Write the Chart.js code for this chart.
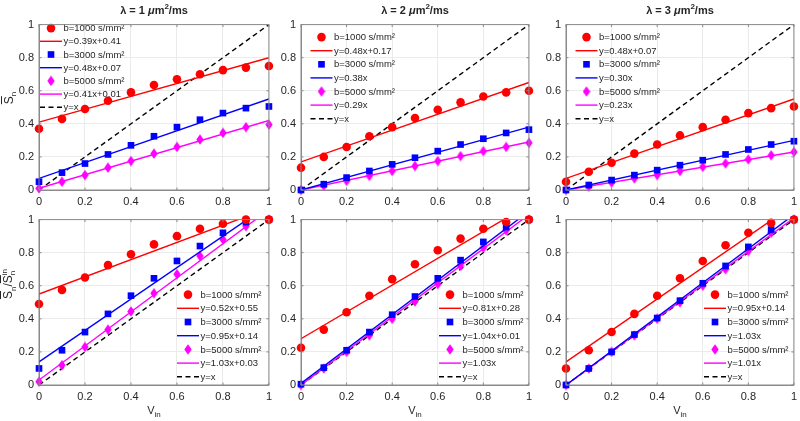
<!DOCTYPE html>
<html>
<head>
<meta charset="utf-8">
<script src="https://cdn.jsdelivr.net/npm/chart.js@4.4.1/dist/chart.umd.min.js"></script>
<style>
  body { margin: 0; background: #fff; width: 800px; height: 421px; position: relative; overflow: hidden;
         font-family: "Liberation Sans", Arial, sans-serif; color: #262626; }
  canvas { position: absolute; }
  .lbl { position: absolute; transform: translate(-50%, -50%); white-space: nowrap; font-size: 11px; }
  .title { font-weight: bold; }
  .ylab { transform: translate(-50%, -50%) rotate(-90deg); font-size: 12px; }
  .ov { text-decoration: overline; }
  sub, sup { font-size: 8px; line-height: 0; }
  .stack { display: inline-block; vertical-align: middle; line-height: 8px; font-size: 8px; text-align: left; }
</style>
</head>
<body>
<script>
// x values (V_in) shared by every panel
const vIn = [0, 0.1, 0.2, 0.3, 0.4, 0.5, 0.6, 0.7, 0.8, 0.9, 1];
const lambdas = [1, 2, 3];
const bLabels = ['b=1000 s/mm²', 'b=3000 s/mm²', 'b=5000 s/mm²'];
const axisTicks = [0, 0.2, 0.4, 0.6, 0.8, 1];

// top row: normalised signal S_n
const top1 = [
  [0.37, 0.43, 0.49, 0.54, 0.59, 0.635, 0.67, 0.70, 0.725, 0.74, 0.75],
  [0.05, 0.105, 0.16, 0.215, 0.27, 0.325, 0.38, 0.425, 0.465, 0.495, 0.505],
  [0.01, 0.05, 0.09, 0.135, 0.175, 0.22, 0.26, 0.305, 0.345, 0.38, 0.395]
];
const top2 = [
  [0.135, 0.20, 0.26, 0.325, 0.38, 0.435, 0.485, 0.53, 0.565, 0.59, 0.60],
  [0, 0.035, 0.075, 0.115, 0.155, 0.195, 0.235, 0.275, 0.31, 0.345, 0.365],
  [0, 0.025, 0.055, 0.085, 0.115, 0.145, 0.175, 0.205, 0.235, 0.26, 0.285]
];
const top3 = [
  [0.05, 0.11, 0.165, 0.22, 0.275, 0.33, 0.38, 0.425, 0.465, 0.495, 0.505],
  [0, 0.03, 0.06, 0.09, 0.12, 0.15, 0.18, 0.215, 0.245, 0.275, 0.295],
  [0, 0.02, 0.045, 0.07, 0.09, 0.115, 0.14, 0.16, 0.185, 0.21, 0.23]
];
// bottom row: S_n / S_n^in
const bot1 = [
  [0.49, 0.575, 0.65, 0.725, 0.79, 0.85, 0.90, 0.945, 0.975, 1.0, 1.0],
  [0.10, 0.21, 0.32, 0.43, 0.54, 0.645, 0.75, 0.84, 0.92, 0.985, 1.0],
  [0.02, 0.12, 0.23, 0.335, 0.445, 0.555, 0.67, 0.78, 0.88, 0.96, 1.0]
];
const bot2 = [
  [0.225, 0.335, 0.44, 0.54, 0.64, 0.73, 0.815, 0.885, 0.945, 0.985, 1.0],
  [0.005, 0.105, 0.21, 0.32, 0.425, 0.535, 0.645, 0.755, 0.865, 0.955, 1.0],
  [0, 0.10, 0.20, 0.30, 0.40, 0.505, 0.61, 0.72, 0.83, 0.935, 1.0]
];
const bot3 = [
  [0.10, 0.21, 0.32, 0.43, 0.54, 0.645, 0.75, 0.845, 0.92, 0.98, 1.0],
  [0, 0.10, 0.20, 0.305, 0.405, 0.51, 0.615, 0.72, 0.835, 0.94, 1.0],
  [0, 0.10, 0.20, 0.30, 0.40, 0.50, 0.60, 0.70, 0.81, 0.92, 1.0]
];

// linear fits: label and value at V_in = 0 and V_in = 1
const fitTop1 = ['y=0.39x+0.41', 'y=0.48x+0.07', 'y=0.41x+0.01'];
const fitTop2 = ['y=0.48x+0.17', 'y=0.38x', 'y=0.29x'];
const fitTop3 = ['y=0.48x+0.07', 'y=0.30x', 'y=0.23x'];
const fitBot1 = ['y=0.52x+0.55', 'y=0.95x+0.14', 'y=1.03x+0.03'];
const fitBot2 = ['y=0.81x+0.28', 'y=1.04x+0.01', 'y=1.03x'];
const fitBot3 = ['y=0.95x+0.14', 'y=1.03x', 'y=1.01x'];
const fitEndsTop1 = [[0.41, 0.80], [0.07, 0.55], [0.01, 0.42]];
const fitEndsTop2 = [[0.17, 0.65], [0, 0.38], [0, 0.29]];
const fitEndsTop3 = [[0.07, 0.55], [0, 0.30], [0, 0.23]];
const fitEndsBot1 = [[0.55, 1.07], [0.14, 1.09], [0.03, 1.06]];
const fitEndsBot2 = [[0.28, 1.09], [0.01, 1.05], [0, 1.03]];
const fitEndsBot3 = [[0.14, 1.09], [0, 1.03], [0, 1.01]];
const identity = [0, 1];
const fitX = [0, 1];

const colors = ['#ff0000', '#0000ff', '#ff00ff'];
const FONT = '"Liberation Sans", Arial, sans-serif';

function diamond(color) {
  const c = document.createElement('canvas');
  c.width = 8; c.height = 11;
  const g = c.getContext('2d');
  g.fillStyle = color;
  g.beginPath();
  g.moveTo(4, 0.3); g.lineTo(7.7, 5.5); g.lineTo(4, 10.7); g.lineTo(0.3, 5.5);
  g.closePath(); g.fill();
  return c;
}
const markers = [
  { pointStyle: 'circle', pointRadius: 4.3 },
  { pointStyle: 'rect', pointRadius: 4.7 },
  { pointStyle: diamond('#ff00ff'), pointRadius: 4 }
];

// legend drawn inside the axes (no background, data stays visible)
const inLegend = {
  id: 'inLegend',
  afterDatasetsDraw(chart, args, opts) {
    const ctx = chart.ctx, a = chart.chartArea;
    const x0 = a.left + opts.dx, y0 = a.top + opts.dy;
    ctx.save();
    ctx.font = '9.5px ' + FONT;
    chart.data.datasets.forEach((d, i) => {
      const y = y0 + i * opts.step;
      if (d.showLine) {
        ctx.strokeStyle = d.borderColor;
        ctx.lineWidth = d.borderWidth;
        ctx.setLineDash(d.borderDash || []);
        ctx.beginPath(); ctx.moveTo(x0, y); ctx.lineTo(x0 + 22, y); ctx.stroke();
        ctx.setLineDash([]);
      } else {
        ctx.fillStyle = d.pointBackgroundColor;
        ctx.strokeStyle = d.pointBorderColor;
        Chart.helpers.drawPoint(ctx, { pointStyle: d.pointStyle, radius: d.pointRadius, borderWidth: 0, rotation: 0 }, x0 + 11, y);
      }
      ctx.fillStyle = '#262626';
      ctx.textBaseline = 'middle';
      ctx.fillText(d.label, x0 + 23.5, y + 0.5);
    });
    ctx.restore();
  }
};

// MATLAB-like box with small inward tick marks
const boxPlugin = {
  id: 'boxPlugin',
  afterDraw(chart) {
    const ctx = chart.ctx, a = chart.chartArea;
    const xs = chart.scales.x, ys = chart.scales.y;
    ctx.save();
    ctx.strokeStyle = '#8a8a8a';
    ctx.lineWidth = 1;
    ctx.strokeRect(a.left, a.top, a.right - a.left, a.bottom - a.top);
    ctx.beginPath();
    axisTicks.forEach(v => {
      const px = xs.getPixelForValue(v), py = ys.getPixelForValue(v);
      ctx.moveTo(px, a.bottom); ctx.lineTo(px, a.bottom - 2.5);
      ctx.moveTo(px, a.top); ctx.lineTo(px, a.top + 2.5);
      ctx.moveTo(a.left, py); ctx.lineTo(a.left + 2.5, py);
      ctx.moveTo(a.right, py); ctx.lineTo(a.right - 2.5, py);
    });
    ctx.stroke();
    ctx.restore();
  }
};

const colLeft = [39, 301, 566], colRight = [269, 529, 794];
const rowTop = [21, 216], rowBottom = [190, 385];

function makePanel(row, col, series, fitLabels, fitEnds, legendPos) {
  const L = colLeft[col], R = colRight[col], T = rowTop[row], B = rowBottom[row];
  const cv = document.createElement('canvas');
  cv.width = R - L + 39 + 8;
  cv.height = B - T + 8 + 22;
  cv.style.left = (L - 39) + 'px';
  cv.style.top = (T - 8) + 'px';
  document.body.appendChild(cv);

  const datasets = [];
  series.forEach((vals, k) => {
    datasets.push(Object.assign({
      label: bLabels[k],
      data: vIn.map((x, i) => ({ x: x, y: vals[i] })),
      pointBackgroundColor: colors[k],
      pointBorderColor: colors[k],
      pointBorderWidth: 0,
      showLine: false,
      clip: false
    }, markers[k]));
    datasets.push({
      label: fitLabels[k],
      data: fitX.map((x, i) => ({ x: x, y: fitEnds[k][i] })),
      showLine: true,
      borderColor: colors[k],
      borderWidth: 1.4,
      pointRadius: 0
    });
  });
  datasets.push({
    label: 'y=x',
    data: fitX.map((x, i) => ({ x: x, y: identity[i] })),
    showLine: true,
    borderColor: '#000',
    borderWidth: 1.4,
    borderDash: [5, 3.5],
    pointRadius: 0
  });

  const tickFont = { family: FONT, size: 11 };
  const fmt = v => String(+v.toFixed(2));
  new Chart(cv, {
    type: 'scatter',
    data: { datasets: datasets },
    options: {
      responsive: false,
      animation: false,
      events: [],
      layout: { padding: { top: 8, right: 8, left: 0, bottom: 0 } },
      plugins: { legend: { display: false }, tooltip: { enabled: false }, inLegend: legendPos },
      scales: {
        x: {
          type: 'linear', min: 0, max: 1,
          afterFit: s => { s.height = 22; },
          afterBuildTicks: s => { s.ticks = axisTicks.map(v => ({ value: v })); },
          ticks: { font: tickFont, color: '#262626', padding: 5, maxRotation: 0, callback: fmt },
          grid: { color: '#ebebeb', drawTicks: false },
          border: { display: true, color: '#8a8a8a' }
        },
        y: {
          type: 'linear', min: 0, max: 1,
          afterFit: s => { s.width = 39; },
          afterBuildTicks: s => { s.ticks = axisTicks.map(v => ({ value: v })); },
          ticks: { font: tickFont, color: '#262626', padding: 5, callback: fmt },
          grid: { color: '#ebebeb', drawTicks: false },
          border: { display: true, color: '#8a8a8a' }
        }
      }
    },
    plugins: [inLegend, boxPlugin]
  });
}

const topLegend1 = { dx: 1, dy: 3.5, step: 13.2 };
const topLegend = { dx: 9.5, dy: 12.5, step: 13.6 };
const botLegend = { dx: 138, dy: 75, step: 13.7 };

makePanel(0, 0, top1, fitTop1, fitEndsTop1, topLegend1);
makePanel(0, 1, top2, fitTop2, fitEndsTop2, topLegend);
makePanel(0, 2, top3, fitTop3, fitEndsTop3, topLegend);
makePanel(1, 0, bot1, fitBot1, fitEndsBot1, botLegend);
makePanel(1, 1, bot2, fitBot2, fitEndsBot2, botLegend);
makePanel(1, 2, bot3, fitBot3, fitEndsBot3, botLegend);

// titles, axis labels (HTML text for sub/superscripts)
function addLabel(html, x, y, cls) {
  const d = document.createElement('div');
  d.className = 'lbl ' + cls;
  d.style.left = x + 'px';
  d.style.top = y + 'px';
  d.innerHTML = html;
  document.body.appendChild(d);
}
lambdas.forEach((lam, c) => {
  const cx = (colLeft[c] + colRight[c]) / 2;
  addLabel('λ = ' + lam + ' <i>μ</i>m<sup>2</sup>/ms', cx, 10, 'title');
  addLabel('V<sub>in</sub>', cx, 410, '');
});
addLabel('<span class="ov">S</span><sub>n</sub>', 9, 98, 'ylab');
addLabel('<span class="ov">S</span><sub>n</sub>/<span class="ov">S</span><span class="stack">in<br>n</span>', 9, 284, 'ylab');
</script>
</body>
</html>
